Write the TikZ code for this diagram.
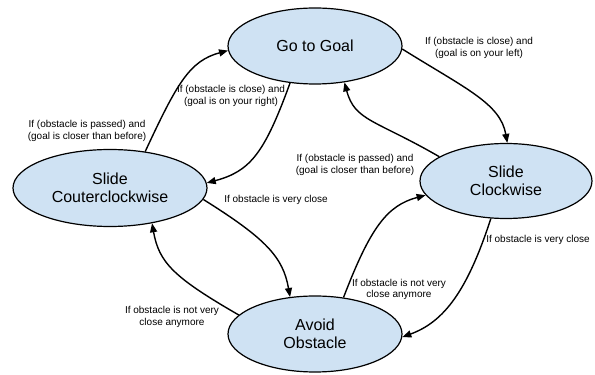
\documentclass[tikz,border=0pt]{standalone}
\usepackage{fontspec}
\setmainfont{Liberation Sans}
\usetikzlibrary{shapes.geometric,arrows.meta}
\definecolor{stfill}{HTML}{CFE2F3}
\begin{document}
\begin{tikzpicture}[x=1pt,y=1pt,
  state/.style={ellipse,draw=black,line width=1.2pt,fill=stfill,inner sep=0pt,align=center,font=\fontsize{16}{18.5}\selectfont},
  tr/.style={line width=1.4pt,-{Triangle[length=9pt,width=7pt]}},
  lbl/.style={align=center,font=\fontsize{10}{11.5}\selectfont,inner sep=0pt}]
\useasboundingbox (0,0) rectangle (595,375);
\node[state,minimum width=174pt,minimum height=76pt] (gtg) at (315,329) {Go to Goal};
\node[state,minimum width=172pt,minimum height=75pt] (cw) at (506,194) {Slide\\Clockwise};
\node[state,minimum width=194pt,minimum height=77pt] (ccw) at (110,187) {Slide\\Couterclockwise};
\node[state,minimum width=174pt,minimum height=76pt] (ao) at (315,41) {Avoid\\Obstacle};

\draw[tr] (ccw.46) .. controls +(65:75) and +(195:40) .. (gtg.183);
\draw[tr] (gtg.236) .. controls +(250:75) and +(15:45) .. (ccw.3);
\draw[tr] (gtg.-2) .. controls +(-32:75) and +(100:40) .. (cw.88);
\draw[tr] (cw.160) .. controls +(150:75) and +(285:40) .. (gtg.309);
\draw[tr] (ccw.-7) .. controls +(-32:75) and +(100:40) .. (ao.124);
\draw[tr] (ao.166) .. controls +(150:75) and +(280:40) .. (ccw.320);
\draw[tr] (ao.52) .. controls +(69:75) and +(195:40) .. (cw.190);
\draw[tr] (cw.248) .. controls +(252:75) and +(20:45) .. (ao.-2);

\node[lbl] (l1) at (87,244) {If (obstacle is passed) and\\(goal is closer than before)};
\node[lbl] (l2) at (231,279) {If (obstacle is close) and\\(goal is on your right)};
\node[lbl] (l3) at (479,327) {If (obstacle is close) and\\(goal is on your left)};
\node[lbl] (l4) at (355,210) {If (obstacle is passed) and\\(goal is closer than before)};
\node[lbl] (l5) at (276,175) {If obstacle is very close};
\node[lbl] (l6) at (172,58) {If obstacle is not very\\close anymore};
\node[lbl] (l7) at (399,85.5) {If obstacle is not very\\close anymore};
\node[lbl] (l8) at (538,135) {If obstacle is very close};
\end{tikzpicture}
\end{document}
